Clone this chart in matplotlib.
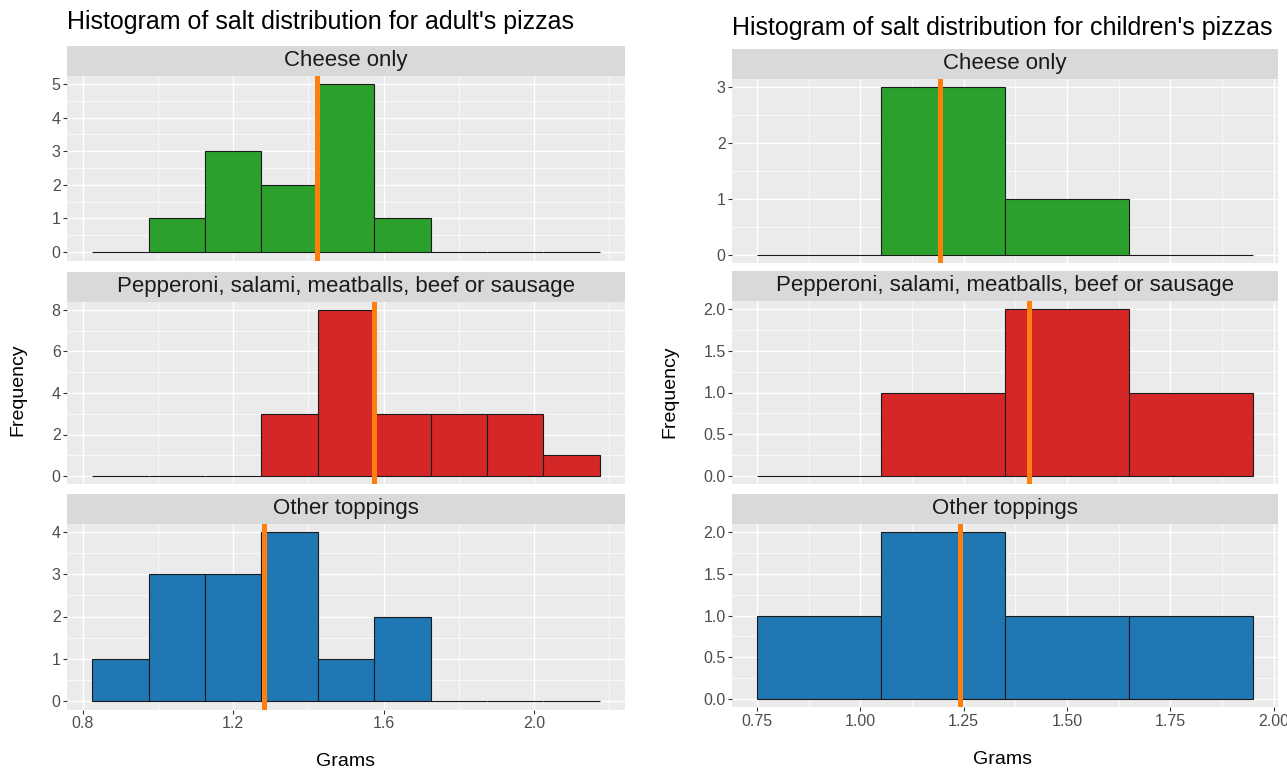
import matplotlib.pyplot as plt
import numpy as np
from matplotlib.ticker import MultipleLocator, FormatStrFormatter

plt.rcParams['font.family'] = ['Liberation Sans', 'DejaVu Sans']

# data
groups = ["Cheese only", "Pepperoni, salami, meatballs, beef or sausage", "Other toppings"]
colours = ["#2ca02c", "#d62728", "#1f77b4"]
mean_colour = "#ff7f0e"

adult_edges = [0.825, 0.975, 1.125, 1.275, 1.425, 1.575, 1.725, 1.875, 2.025, 2.175]
adult_cheese = [0, 1, 3, 2, 5, 1, 0, 0, 0]
adult_meat = [0, 0, 0, 3, 8, 3, 3, 3, 1]
adult_other = [1, 3, 3, 4, 1, 2, 0, 0, 0]
adult_means = [1.422, 1.575, 1.282]

child_edges = [0.75, 1.05, 1.35, 1.65, 1.95]
child_cheese = [0, 3, 1, 0]
child_meat = [0, 1, 2, 1]
child_other = [1, 2, 1, 1]
child_means = [1.193, 1.408, 1.242]

W, H = 1287, 771
fig = plt.figure(figsize=(W / 100, H / 100), dpi=100)
fig.patch.set_facecolor("white")


def px_axes(x0, x1, top, bottom):
    return fig.add_axes([x0 / W, 1 - bottom / H, (x1 - x0) / W, (bottom - top) / H])


def draw_block(x0, x1, rows, edges, counts_list, means, xstep, xfmt, ysteps, yfmts, title, title_y):
    edges = np.array(edges)
    lo, hi = edges[0], edges[-1]
    pad = (hi - lo) * 0.05
    for i, (top, bottom) in enumerate(rows):
        ax = px_axes(x0, x1, top, bottom)
        counts = np.array(counts_list[i])
        ax.set_facecolor("#EBEBEB")
        ax.bar(edges[:-1], counts, width=np.diff(edges), align="edge",
               color=colours[i], edgecolor="#1a1a1a", linewidth=0.8, zorder=3)
        ax.axvline(means[i], color=mean_colour, linewidth=3.6, zorder=4)
        ymax = counts.max()
        ax.set_xlim(lo - pad, hi + pad)
        ax.set_ylim(-ymax * 0.05, ymax * 1.05)
        ax.xaxis.set_major_locator(MultipleLocator(xstep))
        ax.xaxis.set_minor_locator(MultipleLocator(xstep / 2))
        ax.yaxis.set_major_locator(MultipleLocator(ysteps[i]))
        ax.yaxis.set_minor_locator(MultipleLocator(ysteps[i] / 2))
        ax.yaxis.set_major_formatter(FormatStrFormatter(yfmts[i]))
        ax.xaxis.set_major_formatter(FormatStrFormatter(xfmt))
        ax.grid(which="major", color="white", linewidth=1.0, zorder=0)
        ax.grid(which="minor", color="white", linewidth=0.5, zorder=0)
        ax.set_axisbelow(True)
        for s in ax.spines.values():
            s.set_visible(False)
        ax.tick_params(axis="both", which="major", length=3, width=0.8, color="#333333",
                       labelcolor="#4D4D4D", labelsize=11.5, pad=1.5)
        ax.tick_params(axis="both", which="minor", length=0)
        if i < len(rows) - 1:
            ax.tick_params(axis="x", which="major", length=0, labelbottom=False)
        # facet strip
        st = px_axes(x0, x1, top - 30, top)
        st.set_facecolor("#D9D9D9")
        st.set_xticks([])
        st.set_yticks([])
        for s in st.spines.values():
            s.set_visible(False)
        st.text(0.5, 0.5, groups[i], ha="center", va="center", fontsize=16, color="#1A1A1A",
                transform=st.transAxes)
    fig.text(x0 / W, 1 - title_y / H, title, ha="left", va="center", fontsize=18, color="black")


draw_block(67, 625, [(75.6, 260.5), (301.7, 484.3), (523.5, 709.5)],
           adult_edges, [adult_cheese, adult_meat, adult_other], adult_means,
           0.4, "%.1f", [1, 2, 1], ["%d", "%d", "%d"],
           "Histogram of salt distribution for adult's pizzas", 22)

draw_block(732, 1278, [(78.6, 263.4), (300.6, 484.4), (523.6, 707.4)],
           child_edges, [child_cheese, child_meat, child_other], child_means,
           0.25, "%.2f", [1, 0.5, 0.5], ["%d", "%.1f", "%.1f"],
           "Histogram of salt distribution for children's pizzas", 28)

fig.text(18 / W, 1 - 390 / H, "Frequency", rotation=90, ha="center", va="center", fontsize=14)
fig.text(670 / W, 1 - 392 / H, "Frequency", rotation=90, ha="center", va="center", fontsize=14)
fig.text(345 / W, 1 - 762 / H, "Grams", ha="center", va="center", fontsize=14)
fig.text(1003 / W, 1 - 760 / H, "Grams", ha="center", va="center", fontsize=14)

fig.savefig("out.png", dpi=100)
